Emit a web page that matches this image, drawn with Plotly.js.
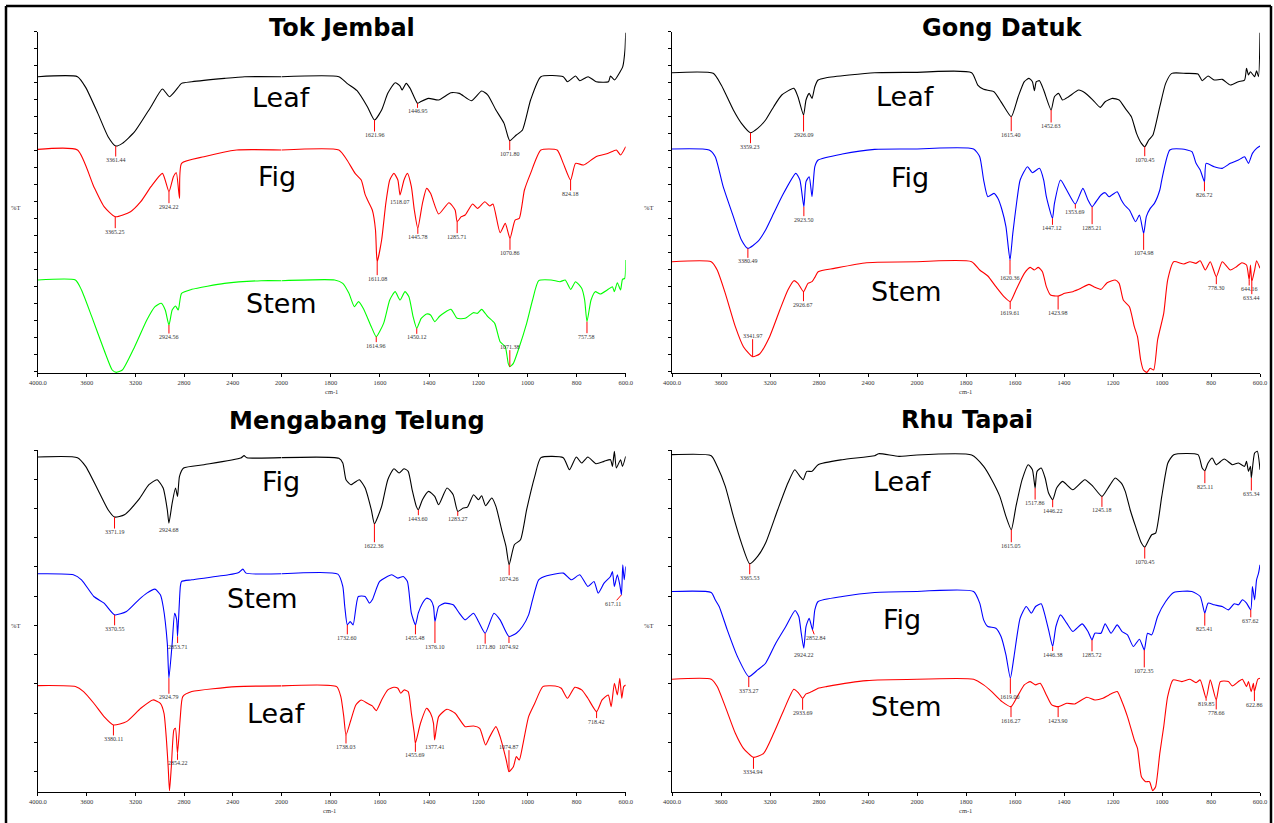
<!DOCTYPE html>
<html><head><meta charset="utf-8">
<script src="https://cdn.plot.ly/plotly-3.0.1.min.js"></script>
<style>html,body{margin:0;padding:0;background:#fff;}#chart{width:1274px;height:823px;}</style>
</head><body><div id="chart"></div>
<script>
// ---------- data: [wavenumber cm-1, %T (arbitrary offset scale)] ----------
const tokJembalLeaf = [[4000,88.9],[3675,88.9],[3608,85.7],[3508,77.9],[3424,70.9],[3361.44,68.1],[3307,68.9],[3206,72.4],[3072,79.9],[2978,85.2],[2921,82.9],[2871,84.7],[2821,86.9],[2737,87.4],[2469,88.4],[2302,88.9],[2000,88.9],[1767,88.9],[1734,86.9],[1693,84.7],[1651,79.9],[1621.96,75.9],[1593,78.9],[1568,83.9],[1538,87.1],[1518,86.1],[1510,84.9],[1493,86.9],[1477,85.4],[1446.95,80.9],[1435,81.4],[1402,82.4],[1361,81.9],[1311,84.1],[1277,83.9],[1228,81.7],[1186,84.6],[1161,83.4],[1128,78.9],[1095,74.9],[1079,70.9],[1071.80,69.7],[1045,71.4],[1020,72.9],[987,81.9],[945,88.9],[854,88.9],[837,87.4],[804,89.1],[787,87.7],[753,88.9],[720,87.4],[670,87.4],[662,89.1],[645,87.9],[628,89.7],[612,91.9],[603,96.9],[600,102.1]];
const tokJembalLeafPeaks = [3361.44,1621.96,1446.95,1071.80];

const tokJembalFig = [[4000,67.1],[3675,66.9],[3541,55.9],[3457,49.9],[3365.25,46.9],[3240,48.4],[3156,51.4],[3072,55.9],[2978,59.9],[2924.22,54.4],[2888,58.9],[2864,60.1],[2838,52.4],[2821,62.9],[2637,64.9],[2369,66.9],[2000,66.9],[1767,66.9],[1734,63.9],[1701,59.9],[1676,57.9],[1660,53.5],[1651,52.0],[1631,48.9],[1618,42.9],[1614,36.0],[1611.08,33.4],[1593,39.9],[1576,50.9],[1560,57.9],[1543,59.9],[1527,57.9],[1518.07,53.4],[1502,57.9],[1488,59.9],[1472,55.9],[1460,48.9],[1445.78,43.4],[1427,50.9],[1410,55.4],[1394,53.9],[1361,47.7],[1319,51.1],[1294,48.9],[1285.71,45.4],[1269,46.9],[1253,47.4],[1223,50.7],[1203,49.4],[1173,51.4],[1153,50.1],[1140,50.7],[1111,42.1],[1090,44.9],[1070.86,40.4],[1050,45.9],[1033,46.4],[1012,54.9],[987,59.9],[945,66.9],[879,66.9],[854,62.9],[824.18,57.9],[804,62.9],[771,62.4],[721,64.9],[671,65.9],[638,66.9],[621,65.4],[600,67.9]];
const tokJembalFigPeaks = [3365.25,2924.22,1611.08,1518.07,1445.78,1285.71,1070.86,824.18];

const tokJembalStem = [[4000,27.9],[3692,27.9],[3642,24.9],[3558,16.9],[3457,6.9],[3390,0.9],[3357,0.2],[3307,0.9],[3206,7.9],[3106,15.9],[3039,19.9],[2988,20.9],[2955,18.9],[2924.56,14.4],[2898,18.9],[2871,20.1],[2848,18.9],[2821,23.9],[2737,25.1],[2469,26.9],[2168,27.7],[2000,27.7],[1784,27.9],[1751,26.9],[1726,23.9],[1704,19.9],[1687,21.4],[1668,19.4],[1635,13.9],[1614.96,10.9],[1585,14.9],[1560,21.9],[1538,24.4],[1518,21.9],[1498,24.4],[1482,22.9],[1465,16.9],[1450.12,13.4],[1432,16.4],[1410,17.7],[1394,17.4],[1377,15.4],[1356,17.1],[1311,19.1],[1286,16.4],[1253,16.4],[1220,18.1],[1203,17.9],[1186,19.1],[1161,16.9],[1133,14.9],[1111,9.4],[1090,7.9],[1078,2.9],[1071.38,1.9],[1057,2.9],[1037,6.9],[1003,14.9],[979,21.9],[954,27.7],[904,27.9],[867,27.4],[846,27.9],[824,25.1],[804,27.4],[779,25.4],[767,21.9],[757.58,15.4],[741,21.9],[724,24.4],[704,23.7],[671,25.1],[654,25.9],[646,24.4],[634,27.1],[621,24.9],[613,28.1],[604,28.4],[600,33.9]];
const tokJembalStemPeaks = [2924.56,1614.96,1450.12,1071.38,757.58];

const gongDatukLeaf = [[4000,90.1],[3664,89.9],[3598,86.4],[3499,78.9],[3433,74.9],[3359.23,72.1],[3301,73.4],[3236,75.9],[3170,79.9],[3104,83.4],[3005,85.4],[2972,82.9],[2926.09,77.4],[2906,81.9],[2880,83.9],[2857,82.4],[2834,85.9],[2807,87.9],[2741,88.6],[2346,90.1],[2000,90.2],[1777,90.1],[1752,86.4],[1728,85.1],[1686,84.4],[1653,80.9],[1615.40,76.9],[1587,82.9],[1562,87.4],[1543,88.4],[1529,87.4],[1521,84.7],[1513,87.4],[1500,87.7],[1483,84.9],[1452.63,78.9],[1439,82.9],[1422,83.9],[1406,81.9],[1381,82.9],[1340,84.9],[1315,84.1],[1282,81.9],[1252,79.7],[1232,81.4],[1202,82.4],[1175,81.9],[1150,79.4],[1125,76.9],[1104,71.9],[1084,68.9],[1070.45,67.9],[1054,69.9],[1037,71.4],[1009,79.9],[985,86.9],[960,89.9],[902,89.9],[853,89.7],[836,87.7],[812,89.1],[787,87.9],[754,88.1],[721,86.4],[688,87.4],[663,87.9],[655,91.4],[647,89.4],[639,90.4],[622,88.9],[614,90.7],[606,88.9],[600,102.1]];
const gongDatukLeafPeaks = [3359.23,2926.09,1615.40,1452.63,1070.45];

const gongDatukFig = [[4000,67.2],[3697,66.9],[3647,64.9],[3582,55.9],[3499,46.9],[3433,39.9],[3380.49,37.4],[3301,39.4],[3236,42.9],[3170,47.9],[3104,52.9],[2989,59.9],[2956,57.9],[2923.50,49.9],[2906,57.4],[2880,58.9],[2857,52.9],[2834,61.9],[2807,63.9],[2610,65.7],[2346,67.1],[2000,67.2],[1769,67.2],[1744,64.9],[1728,57.9],[1711,52.9],[1686,53.9],[1670,52.4],[1653,48.9],[1637,43.9],[1620.36,33.9],[1609,41.9],[1592,51.9],[1579,57.9],[1549,61.9],[1529,60.1],[1500,61.4],[1483,57.9],[1472,52.9],[1447.12,46.4],[1439,50.9],[1414,57.9],[1389,54.9],[1353.69,50.7],[1323,55.4],[1302,51.9],[1285.21,49.9],[1274,50.9],[1249,53.4],[1232,54.1],[1216,52.9],[1183,54.4],[1166,51.9],[1153,50.4],[1133,48.9],[1108,45.4],[1092,47.4],[1074.98,41.9],[1064,46.9],[1048,49.4],[1031,50.9],[1009,54.9],[1001,57.9],[968,66.9],[919,67.2],[878,66.4],[861,62.9],[844,60.9],[826.72,57.4],[820,62.9],[787,61.9],[754,61.4],[721,62.9],[688,63.9],[663,64.9],[647,62.9],[631,65.9],[614,67.4],[600,68.1]];
const gongDatukFigPeaks = [3380.49,2923.50,1620.36,1447.12,1353.69,1285.21,1074.98,826.72];

const gongDatukStem = [[4000,33.4],[3680,33.4],[3631,30.9],[3565,23.9],[3483,13.9],[3417,7.9],[3341.97,4.9],[3285,5.7],[3203,10.9],[3120,18.9],[3054,24.9],[3005,27.7],[2972,26.9],[2926.67,24.4],[2890,26.9],[2857,27.4],[2834,28.7],[2807,30.4],[2675,31.4],[2412,33.1],[2000,33.4],[1777,33.4],[1744,30.9],[1711,29.1],[1678,25.9],[1645,22.9],[1619.61,21.4],[1596,24.9],[1562,29.9],[1538,31.7],[1521,30.9],[1505,31.7],[1488,30.4],[1472,25.9],[1455,23.4],[1423.98,23.1],[1397,23.9],[1364,24.4],[1331,25.4],[1298,26.6],[1274,25.7],[1249,25.1],[1224,27.1],[1191,27.9],[1175,26.9],[1158,21.9],[1133,19.9],[1113,13.9],[1100,10.9],[1087,3.9],[1076,0.9],[1062,0.2],[1048,1.4],[1034,0.9],[1018,9.9],[993,17.9],[977,27.9],[952,33.4],[911,32.7],[886,33.4],[861,32.9],[844,33.7],[823,30.9],[803,33.4],[778.30,28.9],[754,33.4],[721,30.9],[696,31.9],[674,33.1],[655,32.4],[644.16,27.9],[639,32.4],[633.44,27.4],[622,30.9],[614,33.7],[600,31.4]];
const gongDatukStemPeaks = [3341.97,2926.67,1619.61,1423.98,778.30,644.16,633.44];

const mengabangFig = [[4000,100.3],[3675,100.1],[3608,97.5],[3508,90.5],[3424,84.5],[3371.19,82.3],[3290,83.0],[3173,87.5],[3089,92.0],[3022,93.5],[2972,91.0],[2938,84.5],[2924.68,80.5],[2898,86.5],[2871,91.0],[2854,88.5],[2838,94.5],[2804,97.0],[2637,98.0],[2335,100.0],[2308,100.7],[2285,100.1],[2000,100.1],[1767,99.9],[1751,98.5],[1738,93.5],[1718,92.0],[1684,93.5],[1660,91.0],[1635,84.5],[1622.36,80.3],[1593,85.5],[1568,93.5],[1543,96.8],[1522,95.5],[1502,96.8],[1485,96.0],[1469,90.5],[1452,85.5],[1443.60,84.5],[1427,87.5],[1402,90.0],[1377,88.5],[1361,86.0],[1327,91.0],[1302,89.0],[1283.27,84.0],[1261,85.0],[1244,85.3],[1219,89.0],[1199,87.5],[1186,88.7],[1170,85.7],[1145,88.0],[1128,85.5],[1103,78.0],[1087,73.5],[1074.26,68.0],[1053,74.0],[1028,75.5],[1003,84.5],[970,94.5],[945,100.1],[854,100.1],[829,96.5],[801,100.3],[779,98.5],[754,100.3],[721,98.3],[688,99.0],[662,99.5],[654,97.5],[646,102.0],[638,97.0],[621,99.5],[613,97.5],[600,100.5]];
const mengabangFigPeaks = [3371.19,2924.68,1622.36,1443.60,1283.27,1074.26];

const mengabangStem = [[4000,65.3],[3709,65.0],[3642,63.5],[3541,58.5],[3457,56.5],[3370.55,53.0],[3273,54.0],[3173,57.5],[3106,59.5],[3039,60.7],[2995,59.0],[2972,55.5],[2938,44.5],[2924.79,34.0],[2898,44.5],[2878,53.5],[2861,51.5],[2853.71,46.5],[2831,61.5],[2821,63.0],[2737,63.5],[2436,65.0],[2352,65.7],[2318,66.7],[2292,65.5],[2000,65.3],[1771,65.2],[1751,61.5],[1743,55.5],[1732.60,50.0],[1721,51.0],[1709,50.0],[1688,58.5],[1660,58.5],[1643,56.5],[1631,57.5],[1601,63.0],[1552,65.0],[1527,64.0],[1505,64.5],[1488,63.0],[1472,53.5],[1455.48,50.0],[1444,53.5],[1427,56.5],[1410,58.0],[1394,57.5],[1382,55.5],[1376.10,51.0],[1361,55.5],[1336,56.5],[1302,56.0],[1277,53.5],[1253,51.5],[1219,53.5],[1199,51.0],[1171.80,47.5],[1136,53.5],[1111,51.5],[1074.92,46.5],[1045,47.5],[1020,49.5],[995,53.0],[979,57.5],[954,63.5],[921,64.7],[854,65.5],[821,63.5],[787,65.0],[754,61.5],[729,63.0],[712,59.5],[688,62.5],[662,64.5],[654,66.0],[646,61.5],[634,65.0],[624,62.0],[617.11,59.0],[612,68.0],[606,63.5],[600,67.5]];
const mengabangStemPeaks = [3370.55,2924.79,2853.71,1732.60,1455.48,1376.10,1171.80,1074.92,617.11];

const mengabangLeaf = [[4000,31.8],[3692,31.5],[3625,30.0],[3541,26.5],[3457,22.5],[3380.11,20.0],[3273,21.0],[3156,25.0],[3056,27.5],[2995,26.5],[2965,23.5],[2945,15.5],[2931,7.5],[2920,0.3],[2905,7.5],[2884,18.5],[2871,19.0],[2854.22,11.5],[2831,22.5],[2811,28.5],[2737,30.0],[2369,31.5],[2000,31.7],[1776,31.5],[1759,28.5],[1747,22.5],[1738.03,17.0],[1718,21.5],[1698,26.0],[1676,27.5],[1651,26.5],[1631,25.7],[1615,24.3],[1593,27.5],[1568,30.5],[1543,31.3],[1527,31.0],[1515,29.5],[1502,30.5],[1485,30.0],[1472,23.5],[1460,17.5],[1455.69,14.5],[1435,20.5],[1410,25.0],[1394,23.5],[1382,20.5],[1377.41,15.5],[1361,22.5],[1327,24.7],[1294,23.5],[1253,19.5],[1219,19.7],[1194,19.0],[1170,14.0],[1153,16.5],[1128,19.5],[1111,16.5],[1086,9.5],[1074.87,6.0],[1057,7.5],[1045,10.5],[1033,9.5],[1020,13.5],[995,22.5],[970,26.5],[937,31.5],[887,31.7],[862,31.0],[837,28.0],[807,31.3],[779,30.5],[754,28.0],[718.42,24.0],[696,27.5],[671,29.0],[659,25.5],[646,32.5],[634,29.0],[624,34.0],[616,28.0],[608,31.5],[600,32.0]];
const mengabangLeafPeaks = [3380.11,2854.22,1738.03,1455.69,1377.41,1074.87,718.42];

const rhuTapaiLeaf = [[4000,101.0],[3680,100.7],[3631,97.5],[3565,91.5],[3499,82.5],[3433,74.5],[3365.53,68.3],[3301,70.5],[3236,74.5],[3137,84.5],[3054,92.5],[2998,96.5],[2956,94.5],[2929,93.5],[2900,96.0],[2857,96.0],[2807,98.0],[2610,99.5],[2346,100.7],[2313,101.3],[2148,100.5],[2000,100.9],[1777,100.9],[1728,97.5],[1695,93.5],[1662,88.5],[1637,82.5],[1615.05,78.5],[1596,85.5],[1571,93.5],[1546,98.0],[1529,96.5],[1517.86,91.0],[1510,96.0],[1493,97.0],[1477,94.0],[1463,89.5],[1446.22,87.5],[1430,91.0],[1406,93.0],[1364,90.5],[1315,93.5],[1282,91.5],[1245.18,88.5],[1216,91.5],[1191,94.0],[1166,92.5],[1150,90.0],[1130,84.5],[1108,79.5],[1084,74.5],[1070.45,73.3],[1054,75.5],[1042,77.0],[1026,77.5],[1001,88.5],[976,98.5],[952,101.0],[853,101.0],[836,97.0],[825.11,96.2],[812,98.5],[795,100.0],[779,98.0],[746,99.7],[713,98.0],[688,98.5],[663,97.5],[655,99.0],[647,96.0],[639,97.5],[635.34,94.0],[622,101.5],[611,102.0],[600,96.5]];
const rhuTapaiLeafPeaks = [3365.53,1615.05,1517.86,1446.22,1245.18,1070.45,825.11,635.34];

const rhuTapaiFig = [[4000,60.0],[3680,59.7],[3647,57.5],[3615,55.5],[3549,48.5],[3466,40.5],[3373.27,34.5],[3301,36.5],[3236,38.5],[3153,44.5],[3071,49.5],[2995,54.3],[2965,52.5],[2945,47.5],[2924.22,43.0],[2906,49.5],[2880,52.0],[2852.84,48.5],[2834,54.5],[2807,57.0],[2610,58.5],[2346,59.7],[2000,60.0],[1769,60.0],[1744,56.5],[1728,51.5],[1711,49.5],[1678,49.0],[1657,46.5],[1637,41.0],[1619.00,34.0],[1604,40.5],[1579,52.0],[1554,55.5],[1533,53.5],[1516,55.5],[1493,56.3],[1480,53.5],[1463,48.5],[1446.38,43.5],[1433,49.5],[1414,53.0],[1389,50.5],[1364,48.0],[1326,50.3],[1302,48.0],[1285.72,45.5],[1274,47.5],[1249,47.5],[1232,50.3],[1208,47.5],[1183,50.0],[1163,48.0],[1141,47.0],[1117,43.5],[1092,45.7],[1072.35,42.5],[1059,47.5],[1042,47.0],[1018,52.5],[985,57.0],[952,59.7],[878,60.0],[844,58.5],[825.41,53.5],[812,56.5],[787,56.0],[754,55.5],[729,54.5],[705,56.3],[688,56.0],[672,57.5],[655,56.5],[637.62,54.5],[631,61.5],[622,57.5],[614,63.5],[606,65.5],[600,68.0]];
const rhuTapaiFigPeaks = [3373.27,2924.22,2852.84,1619.00,1446.38,1285.72,1072.35,825.41,637.62];

const rhuTapaiStem = [[4000,33.7],[3680,33.7],[3631,31.5],[3565,25.5],[3483,17.5],[3417,13.0],[3334.94,10.3],[3252,11.5],[3170,17.5],[3087,24.5],[3005,30.7],[2965,29.5],[2933.69,28.0],[2906,29.3],[2857,30.0],[2807,31.0],[2741,31.5],[2412,33.3],[2000,33.7],[1769,33.7],[1728,32.0],[1695,30.0],[1653,27.0],[1616.27,25.5],[1587,29.0],[1562,32.0],[1538,33.0],[1516,32.0],[1497,32.5],[1472,29.0],[1450,26.0],[1423.90,25.5],[1389,26.5],[1356,26.3],[1307,28.3],[1274,27.5],[1241,28.0],[1216,29.0],[1183,30.0],[1166,27.5],[1141,22.5],[1113,15.5],[1100,13.0],[1084,4.5],[1067,3.0],[1051,3.0],[1038,0.3],[1026,1.5],[1009,11.5],[993,19.5],[977,28.5],[955,33.5],[919,33.0],[886,33.7],[861,32.7],[844,33.5],[819.85,28.0],[803,33.5],[778.66,27.5],[762,33.0],[729,33.0],[713,31.7],[688,33.0],[672,33.7],[655,31.5],[647,33.0],[636,30.0],[627,32.5],[622.86,30.0],[609,33.7],[600,34.0]];
const rhuTapaiStemPeaks = [3334.94,2933.69,1616.27,1423.90,819.85,778.66,622.86];

const panelTitles = ['Tok Jembal','Gong Datuk','Mengabang Telung','Rhu Tapai'];
const xTickValsHigh = [4000,3600,3200,2800,2400,2000];
const xTickTextHigh = ['4000.0','3600','3200','2800','2400','2000'];
const xTickValsLow = [1800,1600,1400,1200,1000,800,600];
const xTickTextLow = ['1800','1600','1400','1200','1000','800','600.0'];

// ---------- layout / style configuration ----------
const W = 1274, H = 823;
const px = x => x / W;
const py = y => 1 - y / H;
const RED = '#ff0000', BLUE = '#0000ff', GREEN = '#00ff00', BLACK = '#000000';

const panels = [
  { title: panelTitles[0], tpos: [342, 27.5], x0: 37.9, xm: 281.6, x1: 625.7, yTop: 31.7, yBot: 373, step: 5.1,
    pct: [15, 207], cm: [331, 392],
    series: [
      { name: 'Leaf', data: tokJembalLeaf, peaks: tokJembalLeafPeaks, color: BLACK, pos: [281, 97.5], dy: [14,15,8,13] },
      { name: 'Fig', data: tokJembalFig, peaks: tokJembalFigPeaks, color: RED, pos: [277, 176.5], dy: [15,15,17,7,9,15,15,14] },
      { name: 'Stem', data: tokJembalStem, peaks: tokJembalStemPeaks, color: GREEN, pos: [281, 303], dy: [12,9,9,-20,15] } ] },
  { title: panelTitles[1], tpos: [1002, 27.5], x0: 672, xm: 917, x1: 1260, yTop: 31.7, yBot: 373, step: 5.1,
    pct: [649, 207], cm: [965, 392],
    series: [
      { name: 'Leaf', data: gongDatukLeaf, peaks: gongDatukLeafPeaks, color: BLACK, pos: [905, 96.7], dy: [14,20,18,16,13] },
      { name: 'Fig', data: gongDatukFig, peaks: gongDatukFigPeaks, color: BLUE, pos: [910, 177.5], dy: [13,13,18,10,8,21,20,13] },
      { name: 'Stem', data: gongDatukStem, peaks: gongDatukStemPeaks, color: RED, pos: [906.7, 291], dy: [-21,13,11,17,11,9,16] } ] },
  { title: panelTitles[2], tpos: [357, 421], x0: 37.9, xm: 281.6, x1: 625.7, yTop: 450, yBot: 791.7, step: 8.76,
    pct: [15.5, 625], cm: [330, 810],
    series: [
      { name: 'Fig', data: mengabangFig, peaks: mengabangFigPeaks, color: BLACK, pos: [281, 481], dy: [15,7,22,9,8,14] },
      { name: 'Stem', data: mengabangStem, peaks: mengabangStemPeaks, color: BLUE, pos: [262.6, 598], dy: [14,19,10,13,13,25,14,10,9] },
      { name: 'Leaf', data: mengabangLeaf, peaks: mengabangLeafPeaks, color: RED, pos: [276, 713.5], dy: [14,10,12,12,7,-25,10] } ] },
  { title: panelTitles[3], tpos: [966.5, 420.5], x0: 672, xm: 917, x1: 1260, yTop: 450, yBot: 791.7, step: 8.76,
    pct: [649, 625], cm: [965, 810],
    series: [
      { name: 'Leaf', data: rhuTapaiLeaf, peaks: rhuTapaiLeafPeaks, color: BLACK, pos: [902, 481], dy: [14,16,15,11,14,15,16,16] },
      { name: 'Fig', data: rhuTapaiFig, peaks: rhuTapaiFigPeaks, color: BLUE, pos: [902, 619], dy: [14,7,8,19,8,15,21,16,11] },
      { name: 'Stem', data: rhuTapaiStem, peaks: rhuTapaiStemPeaks, color: RED, pos: [906.7, 706.5], dy: [15,15,14,14,6,13,13] } ] }
];
const labelDx = { '617.11': -8, '2852.84': 3 };
const Y_MAX = 102.4;

function interp(data, wn) {
  for (let i = 0; i < data.length - 1; i++) {
    const a = data[i][0], ya = data[i][1], b = data[i + 1][0], yb = data[i + 1][1];
    if (wn <= a && wn >= b) return a === b ? ya : ya + (yb - ya) * (a - wn) / (a - b);
  }
  return data[data.length - 1][1];
}

const traces = [], annotations = [], shapes = [];
const layout = {
  width: W, height: H, margin: { l: 0, r: 0, t: 0, b: 0 },
  paper_bgcolor: '#ffffff', plot_bgcolor: '#ffffff', showlegend: false,
  font: { family: 'Liberation Serif', color: '#333' }
};
const tickFont = { family: 'Liberation Serif', size: 6.5, color: '#333' };

panels.forEach((p, i) => {
  const xa = i === 0 ? 'x' : 'x' + (2 * i + 1);
  const xb = 'x' + (2 * i + 2);
  const ya = i === 0 ? 'y' : 'y' + (i + 1);
  const xaKey = xa.replace('x', 'xaxis'), xbKey = xb.replace('x', 'xaxis'), yaKey = ya.replace('y', 'yaxis');
  const common = { ticks: 'outside', ticklen: 3, tickwidth: 1, tickcolor: '#000', showline: true, linecolor: '#000',
    linewidth: 1, showgrid: false, zeroline: false, tickfont: tickFont, fixedrange: true, tickmode: 'array' };
  layout[xaKey] = Object.assign({}, common, { domain: [px(p.x0), px(p.xm)], range: [4000, 2000], anchor: ya,
    tickvals: xTickValsHigh, ticktext: xTickTextHigh });
  layout[xbKey] = Object.assign({}, common, { domain: [px(p.xm), px(p.x1)], range: [2000, 600], anchor: ya,
    tickvals: xTickValsLow, ticktext: xTickTextLow });
  layout[yaKey] = { domain: [py(p.yBot), py(p.yTop)], range: [0, Y_MAX], anchor: xa, showline: true, linecolor: '#000',
    linewidth: 1, ticks: 'outside', ticklen: 3, tickcolor: '#000', tickmode: 'linear', tick0: Y_MAX, dtick: p.step,
    showticklabels: false, showgrid: false, zeroline: false, fixedrange: true };

  p.series.forEach(s => {
    const hi = s.data.filter(d => d[0] >= 2000), lo = s.data.filter(d => d[0] <= 2000);
    [[hi, xa], [lo, xb]].forEach(([seg, ax]) => {
      traces.push({ x: seg.map(d => d[0]), y: seg.map(d => d[1]), xaxis: ax, yaxis: ya, type: 'scatter',
        mode: 'lines', line: { color: s.color, width: 1.1, shape: 'spline', smoothing: 0.55 }, hoverinfo: 'skip' });
    });
    s.peaks.forEach((wn, k) => {
      const txt = wn.toFixed(2);
      annotations.push({ x: wn, y: interp(s.data, wn), xref: wn >= 2000 ? xa : xb, yref: ya, text: txt,
        showarrow: true, arrowhead: 0, arrowwidth: 1, arrowcolor: RED, standoff: 0, startstandoff: 0,
        ax: labelDx[txt] || 0, ay: s.dy[k], borderpad: 0,
        font: { family: 'Liberation Serif', size: 6, color: '#333' } });
    });
    annotations.push({ x: px(s.pos[0]), y: py(s.pos[1]), xref: 'paper', yref: 'paper', text: s.name, showarrow: false,
      xanchor: 'center', yanchor: 'middle', font: { family: 'DejaVu Sans', size: 27, color: '#000' } });
  });
  annotations.push({ x: px(p.tpos[0]), y: py(p.tpos[1]), xref: 'paper', yref: 'paper', text: '<b>' + p.title + '</b>',
    showarrow: false, xanchor: 'center', yanchor: 'middle', font: { family: 'DejaVu Sans', size: 24, color: '#000' } });
  annotations.push({ x: px(p.pct[0]), y: py(p.pct[1]), xref: 'paper', yref: 'paper', text: '%T', showarrow: false,
    xanchor: 'center', yanchor: 'middle', font: { family: 'Liberation Serif', size: 6.5, color: '#333' } });
  annotations.push({ x: px(p.cm[0]), y: py(p.cm[1]), xref: 'paper', yref: 'paper', text: 'cm-1', showarrow: false,
    xanchor: 'center', yanchor: 'middle', font: { family: 'Liberation Serif', size: 6.5, color: '#333' } });
});

// outer frame
shapes.push({ type: 'line', xref: 'paper', yref: 'paper', x0: px(6), x1: px(1271), y0: py(6), y1: py(6), line: { color: '#000', width: 2.5 } });
shapes.push({ type: 'line', xref: 'paper', yref: 'paper', x0: px(6), x1: px(6), y0: py(6), y1: 0, line: { color: '#000', width: 2.5 } });
shapes.push({ type: 'line', xref: 'paper', yref: 'paper', x0: px(1271), x1: px(1271), y0: py(6), y1: 0, line: { color: '#000', width: 2.5 } });

layout.annotations = annotations;
layout.shapes = shapes;
Plotly.newPlot('chart', traces, layout, { staticPlot: true, displayModeBar: false });
</script>
</body></html>
